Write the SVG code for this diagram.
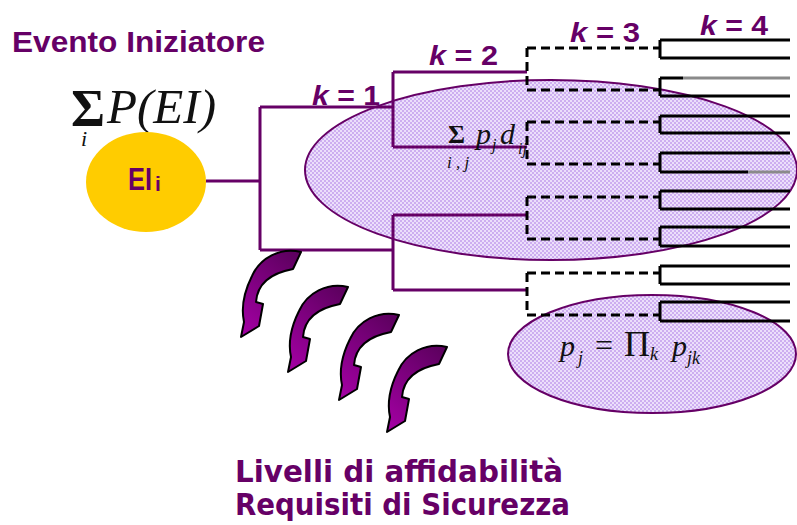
<svg xmlns="http://www.w3.org/2000/svg" xmlns:xlink="http://www.w3.org/1999/xlink" width="797" height="525" viewBox="0 0 797 525">
<style>
.purple{fill:none;stroke:#660066;stroke-width:3}
.dash{fill:none;stroke:#000;stroke-width:3;stroke-dasharray:9 5}
.solid{fill:none;stroke:#000;stroke-width:3}
.lbl{font-family:"Liberation Sans",Arial,sans-serif;font-weight:bold;fill:#660066}
.math{font-family:"Liberation Serif","Times New Roman",serif;fill:#111}
.it{font-style:italic}
.big{font-family:"DejaVu Sans",Verdana,sans-serif;font-weight:bold;fill:#660066;font-size:30px}
.ell{fill:url(#hatch);stroke:#660066;stroke-width:2}
</style>
<defs>
<pattern id="hatch" patternUnits="userSpaceOnUse" width="4" height="4">
<rect width="4" height="4" fill="#ECDFFB"/>
<rect width="2" height="2" fill="#CDAEF0"/>
<rect x="2" y="2" width="2" height="2" fill="#CDAEF0"/>
</pattern>
<linearGradient id="ag" x1="0.8" y1="0" x2="0.2" y2="1">
<stop offset="0" stop-color="#5E0060"/>
<stop offset="1" stop-color="#A000A0"/>
</linearGradient>
<path id="arr" d="M1 0 C-20 -5 -40 6 -48 24 C-56 40 -59 56 -56 70 L-59 85 L-41 74 L-37 52 L-44 50 C-43 36 -34 22 -7 17 Z" fill="url(#ag)" stroke="#000" stroke-width="2" stroke-linejoin="round"/>
</defs>
<rect width="797" height="525" fill="#fff"/>

<g id="title">
<text class="lbl" x="12" y="52" font-size="29" textLength="253" lengthAdjust="spacingAndGlyphs">Evento Iniziatore</text>
</g>

<g id="sumP">
<text class="math"><tspan x="71" y="126" font-size="52" font-weight="bold">Σ</tspan><tspan x="81" y="146" font-size="22" class="it">i</tspan></text>
<text class="math it" x="107" y="123" font-size="48" textLength="109" lengthAdjust="spacingAndGlyphs">P(EI)</text>
</g>

<g id="ellipse-big">
<ellipse class="ell" cx="551" cy="170" rx="246" ry="90"/>
</g>
<g id="ellipse-small">
<ellipse class="ell" cx="652" cy="354" rx="144" ry="59"/>
</g>

<g id="EI">
<ellipse cx="146" cy="182" rx="60" ry="50" fill="#FFCC00"/>
<text class="lbl"><tspan x="128" y="190" font-size="31" textLength="24" lengthAdjust="spacingAndGlyphs">EI</tspan><tspan x="155" y="191" font-size="21">i</tspan></text>
</g>

<g id="connectors">
<path class="purple" d="M206 181 H260 M260 107 V250 M260 107 H393 M260 250 H393 M393 72 V147 M393 215 V290 M393 72 H527 M393 147 H527 M393 215 H527 M393 290 H527"/>
<path class="dash" d="M527 48 V90 M527 122 V164 M527 197 V239 M527 273 V315 M527 48 H660 M527 90 H660 M527 122 H660 M527 164 H660 M527 197 H660 M527 239 H660 M527 273 H660 M527 315 H660"/>
<path class="solid" d="M660 40 V58 M660 78 V96 M660 116 V133 M660 153 V172 M660 191 V209 M660 227 V246 M660 266 V284 M660 302 V321 M660 40 H790 M660 58 H790 M660 78 H683 M660 96 H790 M660 116 H790 M660 133 H790 M660 153 H790 M660 172 H748 M660 191 H790 M660 209 H790 M660 227 H790 M660 246 H790 M660 266 H790 M660 284 H790 M660 302 H790 M660 321 H790"/>
<path fill="none" stroke="#8a8a8a" stroke-width="3" d="M683 78 H790 M748 172 H790"/>
</g>

<g id="k-labels">
<text class="lbl" x="312" y="105" font-size="28" textLength="68" lengthAdjust="spacingAndGlyphs"><tspan class="it">k</tspan> = 1</text>
<text class="lbl" x="429" y="65" font-size="28" textLength="69" lengthAdjust="spacingAndGlyphs"><tspan class="it">k</tspan> = 2</text>
<text class="lbl" x="570" y="42" font-size="28" textLength="70" lengthAdjust="spacingAndGlyphs"><tspan class="it">k</tspan> = 3</text>
<text class="lbl" x="700" y="35" font-size="28" textLength="68" lengthAdjust="spacingAndGlyphs"><tspan class="it">k</tspan> = 4</text>
</g>

<g id="sum-pd">
<text class="math"><tspan x="448" y="143" font-size="26" font-weight="bold">Σ</tspan><tspan class="it" x="447" y="168" font-size="17">i , j</tspan><tspan class="it" x="476" y="144" font-size="30">p</tspan><tspan class="it" x="492" y="150" font-size="16">j</tspan><tspan class="it" x="500" y="144" font-size="30">d</tspan><tspan class="it" x="518" y="154" font-size="16">ij</tspan></text>
</g>

<g id="prod">
<text class="math"><tspan class="it" x="560" y="356" font-size="30">p</tspan><tspan class="it" x="578" y="364" font-size="18">j</tspan><tspan x="595" y="356" font-size="32">=</tspan><tspan x="624" y="356" font-size="36">Π</tspan><tspan class="it" x="650" y="360" font-size="18">k</tspan><tspan class="it" x="672" y="356" font-size="30">p</tspan><tspan class="it" x="687" y="364" font-size="18">jk</tspan></text>
</g>

<g id="arrows">
<use xlink:href="#arr" transform="translate(300,252)"/>
<use xlink:href="#arr" transform="translate(347,287)"/>
<use xlink:href="#arr" transform="translate(398,315)"/>
<use xlink:href="#arr" transform="translate(446,347)"/>
</g>

<g id="caption">
<text class="big" x="235" y="482" textLength="328" lengthAdjust="spacingAndGlyphs">Livelli di affidabilità</text>
<text class="big" x="235" y="515" textLength="335" lengthAdjust="spacingAndGlyphs">Requisiti di Sicurezza</text>
</g>
</svg>
